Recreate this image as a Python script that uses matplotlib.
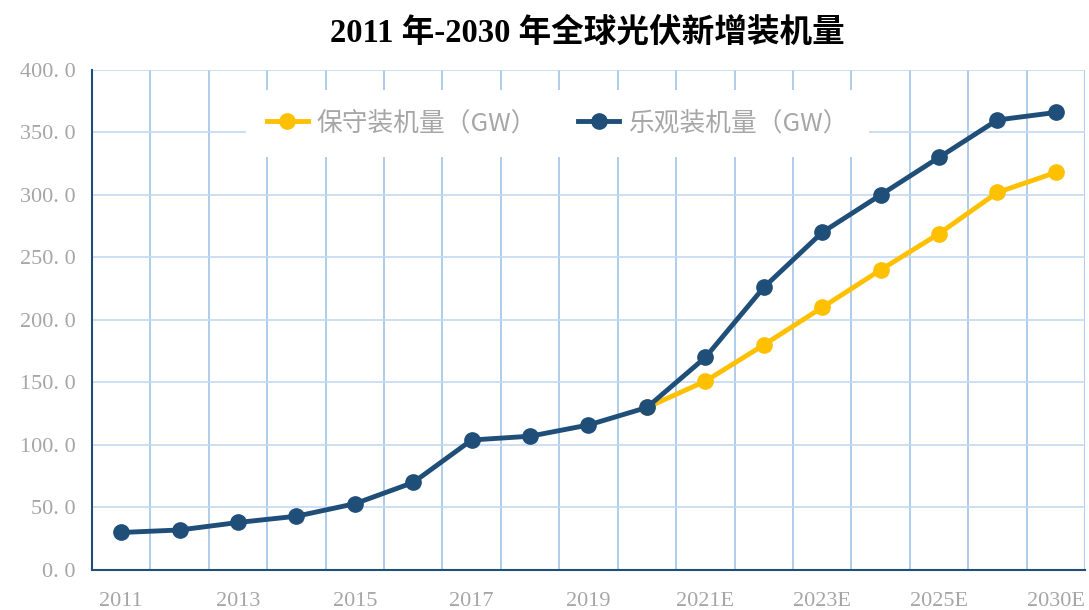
import matplotlib.pyplot as plt
from matplotlib.ticker import FixedLocator

years = ['2011', '2012', '2013', '2014', '2015', '2016', '2017', '2018', '2019', '2020',
         '2021E', '2022E', '2023E', '2024E', '2025E', '2026E', '2030E']
# optimistic scenario (GW)
optimistic = [30, 32, 38, 43, 53, 70, 104, 107, 116, 130,
              170, 226, 270, 300, 330, 360, 366]
# conservative scenario starts in 2020
conservative = [None] * 9 + [130, 151, 180, 210, 240, 269, 302, 318]
yticks = [0, 50, 100, 150, 200, 250, 300, 350, 400]

navy = '#1F4E79'
gold = '#FFC000'
grid_blue = '#C5D9F1'
grey = '#A6A6A6'

fig = plt.figure(figsize=(10.89, 6.10), dpi=100)
ax = fig.add_axes([0.0845, 0.0656, 0.9118, 0.8197])

x = list(range(len(years)))
xc = [i for i, v in zip(x, conservative) if v is not None]
yc = [v for v in conservative if v is not None]

ax.plot(xc, yc, color=gold, lw=3.5, marker='o', ms=11, label='保守装机量（GW）', zorder=3)
ax.plot(x, optimistic, color=navy, lw=3.5, marker='o', ms=11, label='乐观装机量（GW）', zorder=4)

ax.set_xlim(-0.5, len(years) - 0.5)
ax.set_ylim(0, 400)
ax.set_yticks(yticks)
ax.set_yticklabels([f'{v:.1f}'.replace('.', '. ') for v in yticks])
ax.set_xticks(x[::2])
ax.set_xticklabels(years[::2])
ax.xaxis.set_minor_locator(FixedLocator([i + 0.5 for i in x]))

ax.grid(axis='y', which='major', color=grid_blue, lw=1.2)
ax.grid(axis='x', which='minor', color='#A9C8EA', lw=1.3)
ax.grid(axis='x', which='major', visible=False)
ax.set_axisbelow(True)

ax.tick_params(axis='both', which='both', length=0, labelsize=16, labelcolor=grey)
ax.tick_params(axis='y', pad=12)
ax.tick_params(axis='x', pad=16)
for lab in ax.get_xticklabels() + ax.get_yticklabels():
    lab.set_family('Liberation Serif')

for s in ['top', 'right']:
    ax.spines[s].set_visible(False)
for s in ['left', 'bottom']:
    ax.spines[s].set_color(navy)
    ax.spines[s].set_linewidth(1.5)

leg = ax.legend(loc='center', bbox_to_anchor=(0.469, 0.893), ncol=2, frameon=True,
                facecolor='white', edgecolor='none', framealpha=1, fancybox=False,
                handlelength=1.6, handletextpad=0.35, columnspacing=1.6, borderpad=0.8,
                prop={'family': ['Noto Sans CJK SC', 'DejaVu Sans'], 'size': 18.5})
for t in leg.get_texts():
    t.set_color(grey)

fig.text(0.539, 0.946, '2011 年-2030 年全球光伏新增装机量', ha='center', va='center',
         fontsize=23.5, fontweight='bold',
         family=['Liberation Serif', 'Noto Sans CJK SC'])

fig.savefig('out.png', dpi=100)
